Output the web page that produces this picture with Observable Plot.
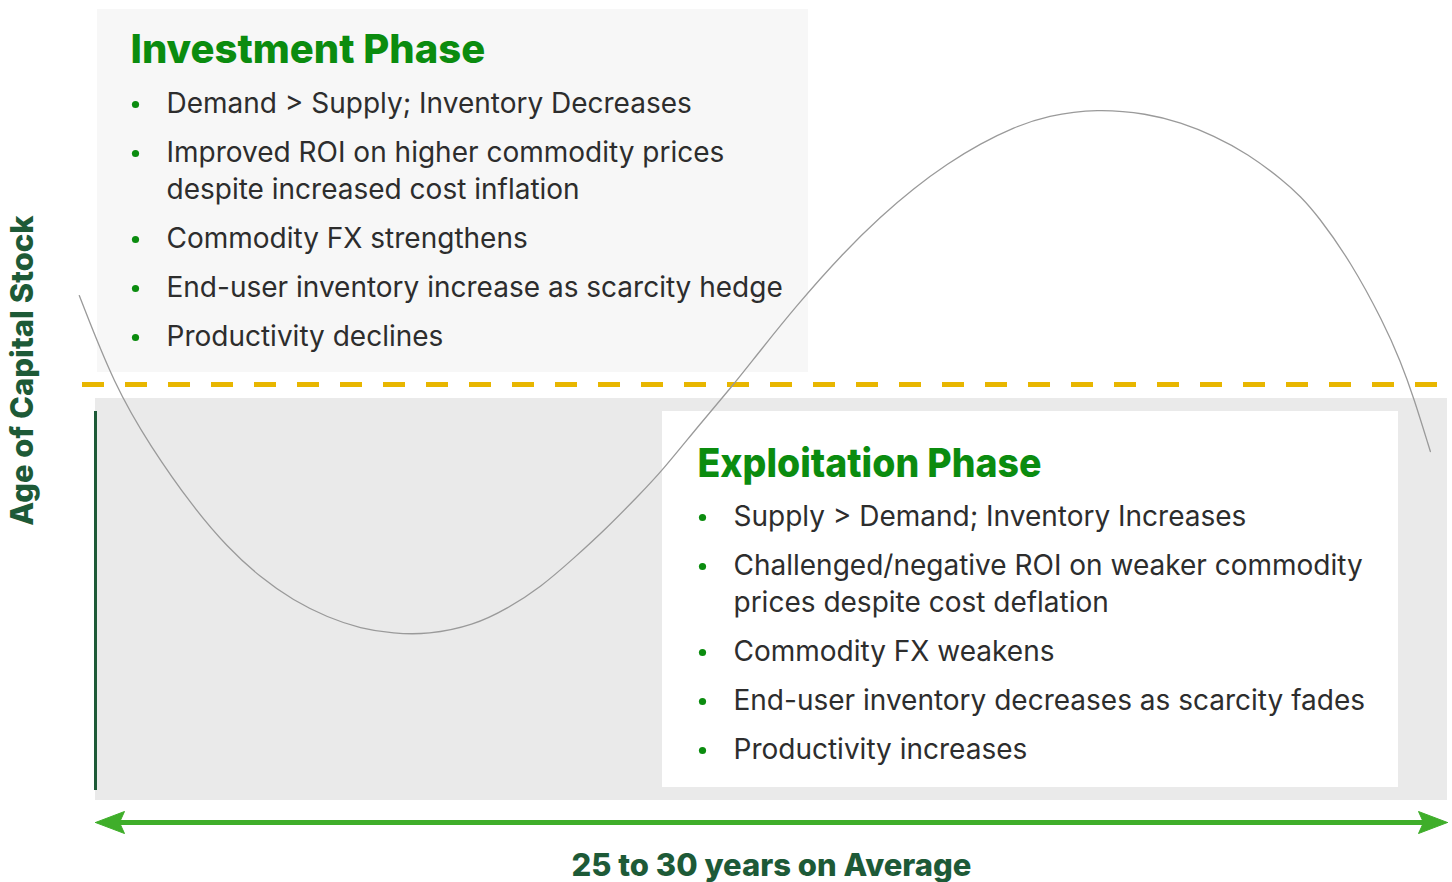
<!DOCTYPE html>
<html><head><meta charset="utf-8">
<script src="https://cdn.jsdelivr.net/npm/d3@7"></script>
<script src="https://cdn.jsdelivr.net/npm/@observablehq/plot@0.6"></script>
<style>html,body{margin:0;padding:0;background:#fff;overflow:hidden}</style>
</head><body><div id="chart"></div>
<script>
// ---- data ----
const cycleYears = [-0.36,0.42,1.22,2.17,2.93,3.66,4.39,5.15,5.88,6.61,7.37,8.39,9.14,9.87,10.61,11.36,12.09,12.54,13.42,14.16,14.58,15.55,16.62,17.42,18.15,18.91,19.64,20.37,21.12,22.23,23.34,24.08,24.81,25.56,26.36,26.74,27.12,27.85,28.58,28.96,29.25,29.62];
const capitalAge = [32.1,-0.4,-22.4,-44.4,-58.8,-69.7,-78.0,-84.1,-88.1,-89.9,-90.3,-87.0,-80.9,-73.3,-62.8,-51.6,-39.4,-31.8,-14.1,0,8.7,28.5,48.0,60.6,70.8,79.8,87.0,92.8,97.1,99.6,97.8,94.6,89.9,83.4,73.6,67.9,61.0,44.4,22.4,8.3,-4.7,-24.2];
const averageAge = [0];
const investmentTitle = "Investment Phase";
const investmentBullets = [
  "Demand > Supply; Inventory Decreases",
  "Improved ROI on higher commodity prices\ndespite increased cost inflation",
  "Commodity FX strengthens",
  "End-user inventory increase as scarcity hedge",
  "Productivity declines"
];
const exploitationTitle = "Exploitation Phase";
const exploitationBullets = [
  "Supply > Demand; Inventory Increases",
  "Challenged/negative ROI on weaker commodity\nprices despite cost deflation",
  "Commodity FX weakens",
  "End-user inventory decreases as scarcity fades",
  "Productivity increases"
];
const yLabel = "Age of Capital Stock";
const xLabel = "25 to 30 years on Average";

// ---- layout helpers (pixel -> scale units) ----
const X = px => (px - 95) * 30 / 1352;
const Y = py => (384 - py) / 2.77;

const curve = cycleYears.map((x, i) => ({x, y: capitalAge[i]}));

function bulletRows(bullets, firstY, textX, dotX) {
  let y = firstY; const lines = [], dots = [];
  bullets.forEach(b => {
    const parts = b.split("\n");
    dots.push({x: X(dotX), y: Y(y)});
    parts.forEach((t, i) => lines.push({t, x: X(textX), y: Y(y + i * 37)}));
    y += (parts.length - 1) * 37 + 49;
  });
  return {lines, dots};
}
const inv = bulletRows(investmentBullets, 104, 166, 135);
const exp = bulletRows(exploitationBullets, 517, 733, 702);

const GREEN = "#0b8c0f", DARK = "#1d5a37", ARROW = "#3fae2a", TEXT = "#2d2d2d";
const FONT = "Inter";

const headL = [[95,822],[124,811],[119,822],[124,833],[95,822]].map(([a,b]) => ({x: X(a), y: Y(b)}));
const headR = [[1447,822],[1418,811],[1423,822],[1418,833],[1447,822]].map(([a,b]) => ({x: X(a), y: Y(b)}));

const chart = Plot.plot({
  width: 1452, height: 882, margin: 0,
  x: {domain: [0, 30], range: [95, 1447], axis: null},
  y: {domain: [-100, 100], range: [661, 107], axis: null},
  style: {background: "white", fontFamily: FONT, overflow: "visible"},
  marks: [
    Plot.rect([{}], {x1: X(97), x2: X(808), y1: Y(9), y2: Y(372), fill: "#f7f7f7"}),
    Plot.rect([{}], {x1: X(95), x2: X(1447), y1: Y(398), y2: Y(800), fill: "#eaeaea"}),
    Plot.rect([{}], {x1: X(662), x2: X(1398), y1: Y(411), y2: Y(787), fill: "#ffffff"}),
    Plot.ruleX([0], {x: d => d, y1: Y(411), y2: Y(790), stroke: DARK, strokeWidth: 3}),
    Plot.ruleY(averageAge, {y: d => d, x1: X(82), x2: X(1447), stroke: "#e8b600", strokeWidth: 5, strokeDasharray: "22,21"}),
    Plot.line(curve, {x: "x", y: "y", curve: "basis", stroke: "#9a9a9a", strokeWidth: 1.3}),
    Plot.ruleY([Y(822)], {y: d => d, x1: X(118), x2: X(1424), stroke: ARROW, strokeWidth: 5}),
    Plot.line(headL, {x: "x", y: "y", fill: ARROW, stroke: ARROW, strokeWidth: 1}),
    Plot.line(headR, {x: "x", y: "y", fill: ARROW, stroke: ARROW, strokeWidth: 1}),
    Plot.text([investmentTitle], {x: X(130), y: Y(50), text: d => d, textAnchor: "start", fontSize: 40, fontWeight: 800, fill: GREEN}),
    Plot.text([exploitationTitle], {x: X(697), y: Y(464), text: d => d, textAnchor: "start", fontSize: 40, fontWeight: 800, fill: GREEN}),
    Plot.dot(inv.dots.concat(exp.dots), {x: "x", y: "y", r: 3.6, fill: GREEN, stroke: null}),
    Plot.text(inv.lines.concat(exp.lines), {x: "x", y: "y", text: "t", textAnchor: "start", fontSize: 28, fontWeight: 400, fill: TEXT}),
    Plot.text([yLabel], {x: X(23), y: Y(370), text: d => d, rotate: -90, fontSize: 31, fontWeight: 800, fill: DARK}),
    Plot.text([xLabel], {x: X(771), y: Y(866), text: d => d, fontSize: 31, fontWeight: 800, fill: DARK})
  ]
});
// match the narrower title face of the reference
d3.select(chart).selectAll("text").filter(function() { return this.textContent === exploitationTitle; })
  .attr("textLength", 344).attr("lengthAdjust", "spacingAndGlyphs");
document.getElementById("chart").appendChild(chart);
</script></body></html>
